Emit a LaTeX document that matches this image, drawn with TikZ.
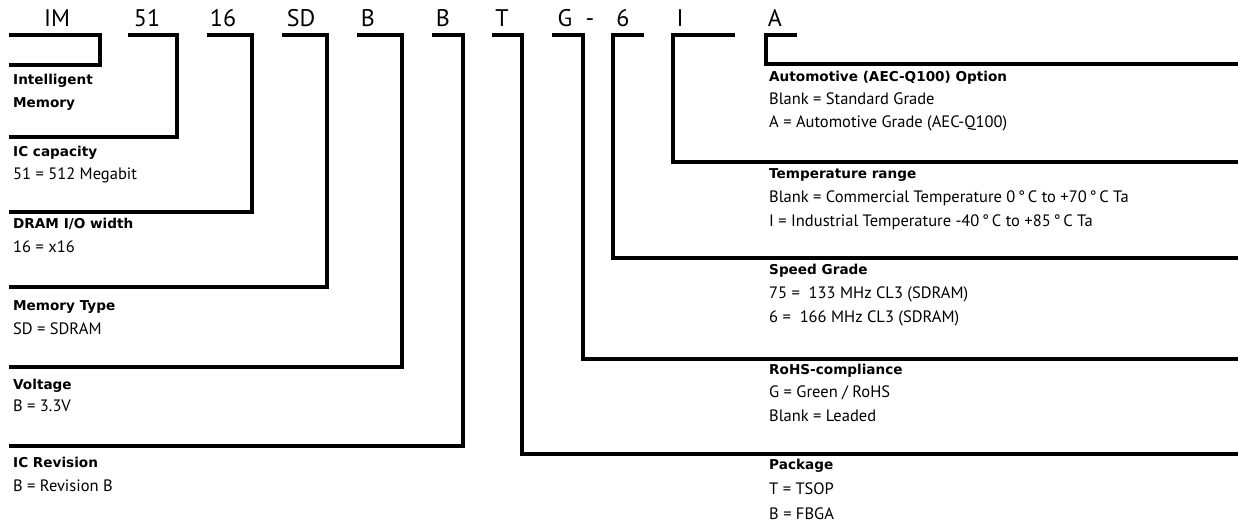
\documentclass[tikz,border=0pt]{standalone}
\usepackage{fontspec}
\setmainfont{PT Sans}
\newfontfamily\heavyfont{DejaVu Sans}
\usepackage{tikz}
\usetikzlibrary{positioning}

\begin{document}
\begin{tikzpicture}[x=1pt,y=-1pt,
  every node/.style={inner sep=0pt,text height=11pt,text depth=3pt},
  code/.style={font=\fontsize{24}{24}\selectfont,anchor=base,text height=17pt,text depth=0pt},
  hd/.style={font=\heavyfont\fontsize{13.6}{14}\selectfont\bfseries,anchor=west},
  tx/.style={font=\fontsize{16.5}{16.5}\selectfont,anchor=west},
  bar/.style={line width=4pt}]
 \useasboundingbox (0,0) rectangle (1238,530);
 % part number
 \node[code] (cIM) at (57,27) {IM};
 \node[code] (c51) at (147,27) {51};
 \node[code] (c16) at (223,27) {16};
 \node[code] (cSD) at (301,27) {SD};
 \node[code] (cB) at (368,27) {B};
 \node[code] (cR) at (443,27) {B};
 \node[code] (cT) at (502,27) {T};
 \node[code] (cG) at (565,27) {G};
 \node[code] (cd) at (590,27) {-};
 \node[code] (c6) at (623,27) {6};
 \node[code] (cI) at (680,27) {I};
 \node[code] (cA) at (775,27) {A};
 % left fields
 \node[hd] (h1) at (13,80) {Intelligent};
 \node[hd] (h1b) at (13,103) {Memory};
 \node[hd] (h2) at (13,152) {IC capacity};
 \node[tx] (t2) at (13,175) {51 = 512 Megabit};
 \node[hd] (h3) at (13,224) {DRAM I/O width};
 \node[tx] (t3) at (13,248) {16 = x16};
 \node[hd] (h4) at (13,306) {Memory Type};
 \node[tx] (t4) at (13,330) {SD = SDRAM};
 \node[hd] (h5) at (13,385) {Voltage};
 \node[tx] (t5) at (13,407) {B = 3.3V};
 \node[hd] (h6) at (13,463) {IC Revision};
 \node[tx] (t6) at (13,487) {B = Revision B};
 % right fields
 \node[hd] (h7) at (769,77) {Automotive (AEC-Q100) Option};
 \node[tx] (t7a) at (769,100) {Blank = Standard Grade};
 \node[tx] (t7b) at (769,123) {A = Automotive Grade (AEC-Q100)};
 \node[hd] (h8) at (769,174) {Temperature range};
 \node[tx] (t8a) at (769,198) {Blank = Commercial Temperature 0\,°\,C to +70\,°\,C Ta};
 \node[tx] (t8b) at (769,222) {I = Industrial Temperature -40\,°\,C to +85\,°\,C Ta};
 \node[hd] (h9) at (769,270) {Speed Grade};
 \node[tx] (t9a) at (769,294) {75 = \ 133 MHz CL3 (SDRAM)};
 \node[tx] (t9b) at (769,318) {6 = \ 166 MHz CL3 (SDRAM)};
 \node[hd] (h10) at (769,370) {RoHS-compliance};
 \node[tx] (t10a) at (769,393) {G = Green / RoHS};
 \node[tx] (t10b) at (769,417) {Blank = Leaded};
 \node[hd] (h11) at (769,465) {Package};
 \node[tx] (t11a) at (769,490) {T = TSOP};
 \node[tx] (t11b) at (769,515) {B = FBGA};
 % lead lines
 \coordinate (eIM) at (9,65);
 \coordinate (e51) at (9,137);
 \coordinate (e16) at (9,212);
 \coordinate (eSD) at (9,287);
 \coordinate (eB) at (9,367);
 \coordinate (eR) at (9,446);
 \coordinate (eT) at (1238,454);
 \coordinate (eG) at (1238,359);
 \coordinate (e6) at (1238,258);
 \coordinate (eI) at (1238,162);
 \coordinate (eA) at (1238,64);
 \draw[bar] (9,35) -| (100,65) -- (eIM);
 \draw[bar] (128,35) -| (177,137) -- (e51);
 \draw[bar] (207,35) -| (252,212) -- (e16);
 \draw[bar] (282,35) -| (327,287) -- (eSD);
 \draw[bar] (357,35) -| (402,367) -- (eB);
 \draw[bar] (432,35) -| (463,446) -- (eR);
 \draw[bar] (492,35) -| (522,454) -- (eT);
 \draw[bar] (552,35) -| (583,359) -- (eG);
 \draw[bar] (644,35) -| (613,258) -- (e6);
 \draw[bar] (735,35) -| (673,162) -- (eI);
 \draw[bar] (797,35) -| (766,64) -- (eA);
\end{tikzpicture}
\end{document}
